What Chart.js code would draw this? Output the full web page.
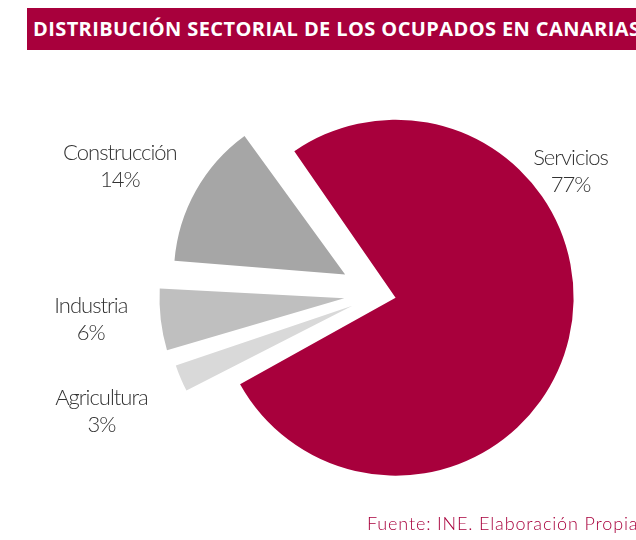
<!DOCTYPE html>
<html>
<head>
    <title>Distribución sectorial de los ocupados en Canarias</title>
    <script src="https://cdn.jsdelivr.net/npm/chart.js"></script>
    <style>
        body { margin: 0; background: #fff; }
        .wrap { position: relative; width: 636px; height: 540px; overflow: hidden; }
        .wrap canvas { position: absolute; left: 0; top: 0; }
        .banner {
            position: absolute; left: 27px; top: 8px; width: 620px; height: 42px;
            background: #a8003c; color: #fff; white-space: nowrap; overflow: hidden;
            font: 700 20px "Open Sans", sans-serif; letter-spacing: 0.4px;
            line-height: 42px; padding-left: 6px; box-sizing: border-box;
        }
        .fuente {
            position: absolute; left: 367px; top: 512px; white-space: nowrap;
            color: #a8003c; font: 300 18px Lato, sans-serif; letter-spacing: 0.85px;
        }
    </style>
</head>
<body>
    <div class="wrap">
        <canvas id="pie" width="636" height="540"></canvas>
        <div class="banner">DISTRIBUCIÓN SECTORIAL DE LOS OCUPADOS EN CANARIAS</div>
        <div class="fuente">Fuente: INE. Elaboración Propia</div>
    </div>

    <script>
        // datos (%)
        const categories = ['Servicios', 'Agricultura', 'Industria', 'Construcción'];
        const shares = [77, 3, 6, 14];

        // estilo
        const sliceColors = ['#a8003c', '#d9d9d9', '#bfbfbf', '#a6a6a6'];
        const sliceOffsets = [64, 120, 144, 160];
        // posición de las etiquetas: ángulo (grados, desde arriba) y distancia al centro
        const labelPlacement = [
            { angle: 58.7, dist: 223 },
            { angle: 246.0, dist: 305 },
            { angle: 263.6, dist: 291 },
            { angle: 295.0, dist: 287 }
        ];

        const sliceLabels = {
            id: 'sliceLabels',
            afterDatasetsDraw(chart) {
                const ctx = chart.ctx;
                const meta = chart.getDatasetMeta(0);
                ctx.save();
                ctx.fillStyle = '#333';
                ctx.font = '300 22px Lato, sans-serif';
                ctx.letterSpacing = '-1px';
                ctx.textAlign = 'center';
                ctx.textBaseline = 'alphabetic';
                meta.data.forEach((arc, i) => {
                    const p = labelPlacement[i];
                    const a = (p.angle - 90) * Math.PI / 180;
                    const x = arc.x + Math.cos(a) * p.dist;
                    const y = arc.y + Math.sin(a) * p.dist;
                    ctx.fillText(categories[i], x, y - 13);
                    ctx.fillText(shares[i] + '%', x, y + 14);
                });
                ctx.restore();
            }
        };

        const ctx = document.getElementById('pie').getContext('2d');
        new Chart(ctx, {
            type: 'pie',
            data: {
                labels: categories,
                datasets: [{
                    data: shares,
                    backgroundColor: sliceColors,
                    offset: sliceOffsets,
                    borderWidth: 0,
                    clip: false
                }]
            },
            options: {
                responsive: false,
                animation: false,
                rotation: -35.5,
                radius: 162,
                layout: { padding: { left: 124, top: 48, right: 0, bottom: 0 } },
                plugins: {
                    legend: { display: false },
                    tooltip: { enabled: false }
                }
            },
            plugins: [sliceLabels]
        });
    </script>
</body>
</html>
